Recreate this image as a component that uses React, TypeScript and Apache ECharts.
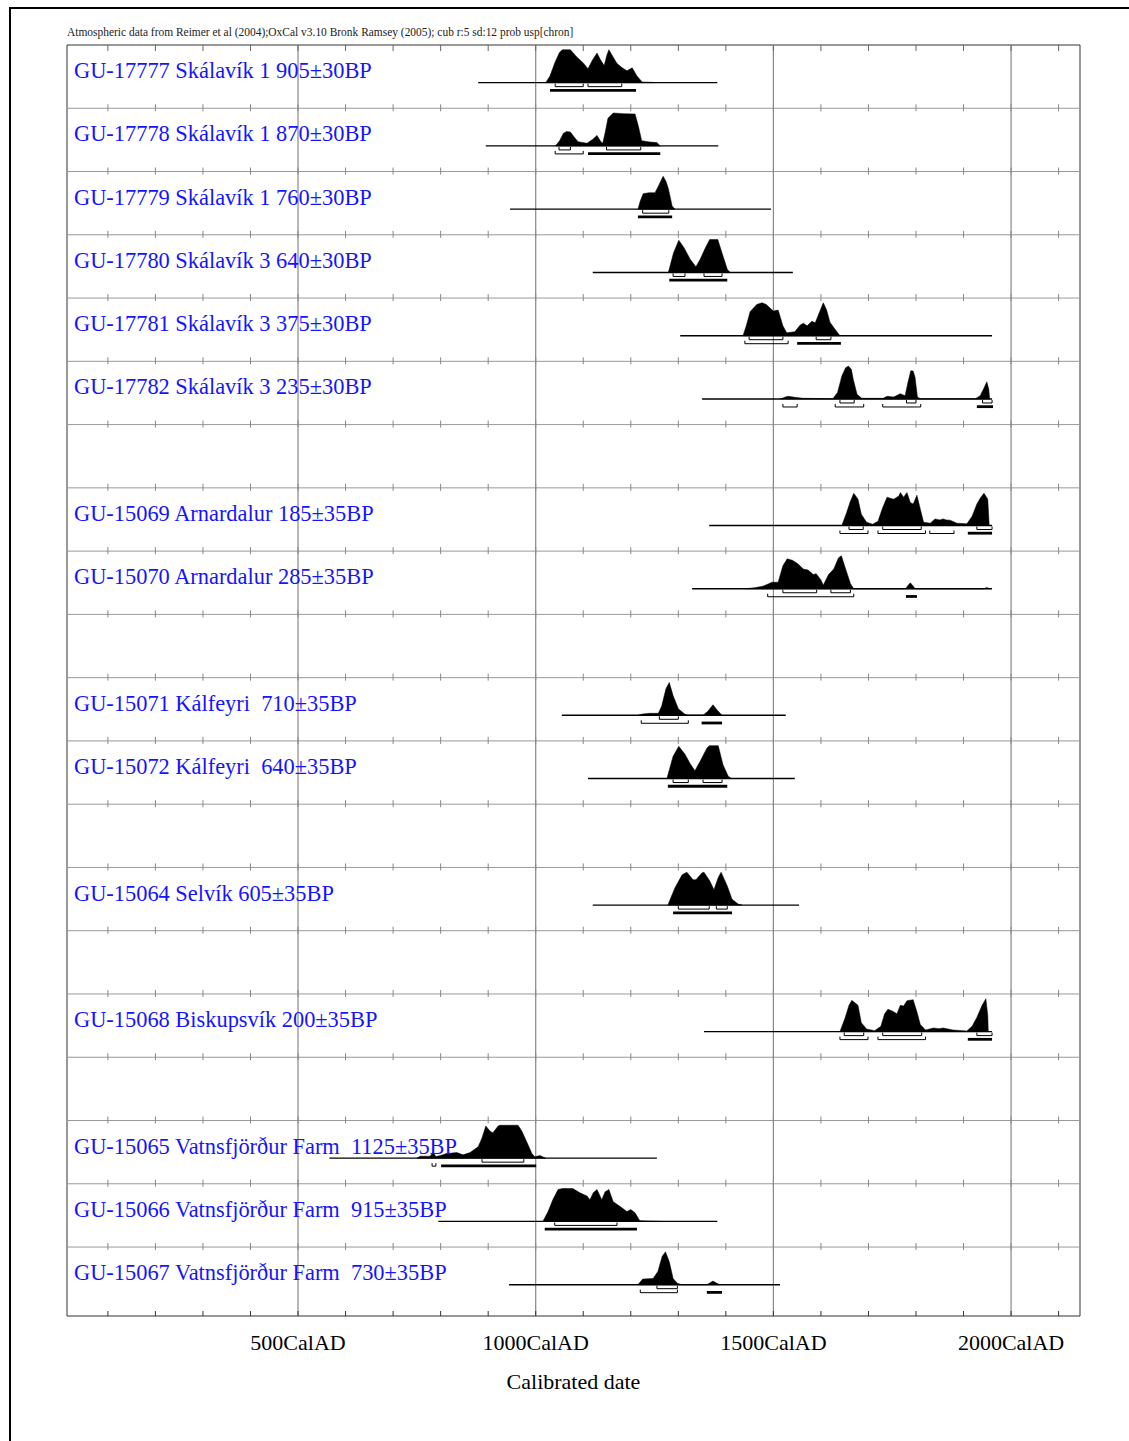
import React, { useEffect, useRef } from "react";
import * as echarts from "echarts";

// ---- axis / layout data ----
const X_MIN = 14;
const X_MAX = 2145;
const Y_MAX = 20.09;
const majorYears = [500, 1000, 1500, 2000];
const minorTickYears = [100, 200, 300, 400, 500, 600, 700, 800, 900, 1000, 1100, 1200, 1300, 1400, 1500, 1600, 1700, 1800, 1900, 2000, 2100];
const rowBoundaries = [1, 2, 3, 4, 5, 6, 7, 8, 9, 10, 11, 12, 13, 14, 15, 16, 17, 18, 19];
const axisSuffix = "CalAD";
const axisName = "Calibrated date";
const headerText = "Atmospheric data from Reimer et al (2004);OxCal v3.10 Bronk Ramsey (2005); cub r:5 sd:12 prob usp[chron]";

// ---- samples ----
const sampleRows = [0, 1, 2, 3, 4, 5, 7, 8, 10, 11, 13, 15, 17, 18, 19];
const sampleLabels = [
  "GU-17777 Skálavík 1 905±30BP",
  "GU-17778 Skálavík 1 870±30BP",
  "GU-17779 Skálavík 1 760±30BP",
  "GU-17780 Skálavík 3 640±30BP",
  "GU-17781 Skálavík 3 375±30BP",
  "GU-17782 Skálavík 3 235±30BP",
  "GU-15069 Arnardalur 185±35BP",
  "GU-15070 Arnardalur 285±35BP",
  "GU-15071 Kálfeyri  710±35BP",
  "GU-15072 Kálfeyri  640±35BP",
  "GU-15064 Selvík 605±35BP",
  "GU-15068 Biskupsvík 200±35BP",
  "GU-15065 Vatnsfjörður Farm  1125±35BP",
  "GU-15066 Vatnsfjörður Farm  915±35BP",
  "GU-15067 Vatnsfjörður Farm  730±35BP",
];

// probability curves: [calendar year AD, relative probability]
const curveGU17777 = [[1021,0],[1030,0.2],[1040,0.6],[1050,0.92],[1056,1.0],[1073,1.0],[1085,0.8],[1100,0.6],[1110,0.42],[1120,0.7],[1129,0.9],[1136,0.7],[1144,0.52],[1150,0.85],[1154,1.0],[1160,0.85],[1171,0.58],[1182,0.45],[1192,0.36],[1203,0.45],[1213,0.2],[1224,0.02],[1245,0.01],[1250,0]];
const curveGU17778 = [[1041,0],[1050,0.15],[1058,0.38],[1065,0.44],[1073,0.42],[1082,0.25],[1089,0.13],[1108,0.08],[1120,0.2],[1129,0.32],[1136,0.15],[1141,0.08],[1146,0.4],[1152,0.84],[1163,1.0],[1185,0.98],[1209,0.97],[1216,0.6],[1223,0.16],[1240,0.12],[1255,0.1],[1262,0]];
const curveGU17779 = [[1215,0],[1220,0.25],[1226,0.47],[1238,0.5],[1251,0.5],[1258,0.7],[1268,1.0],[1274,0.85],[1279,0.63],[1287,0.1],[1293,0]];
const curveGU17780 = [[1279,0],[1290,0.6],[1301,0.98],[1312,0.75],[1325,0.4],[1337,0.17],[1346,0.4],[1356,0.72],[1366,1.0],[1383,1.0],[1394,0.5],[1403,0.1],[1409,0]];
const curveGU17781 = [[1436,0],[1443,0.3],[1451,0.73],[1465,0.95],[1476,1.0],[1485,0.95],[1493,0.84],[1500,0.75],[1510,0.78],[1520,0.3],[1528,0.09],[1545,0.12],[1556,0.32],[1563,0.38],[1571,0.3],[1581,0.44],[1588,0.39],[1596,0.68],[1605,1.0],[1612,0.78],[1619,0.41],[1630,0.19],[1640,0]];
const curveGU17782 = [[1515,0],[1525,0.06],[1531,0.08],[1545,0.05],[1563,0.02],[1625,0.01],[1635,0.2],[1644,0.7],[1652,0.95],[1658,1.0],[1664,0.9],[1668,0.6],[1676,0.14],[1686,0.02],[1731,0.02],[1739,0.08],[1753,0.06],[1767,0.16],[1777,0.1],[1783,0.5],[1789,0.86],[1794,0.85],[1798,0.66],[1803,0.06],[1809,0.01],[1925,0.01],[1935,0.1],[1942,0.3],[1949,0.52],[1953,0.3],[1955,0]];
const curveGU15069 = [[1644,0],[1654,0.39],[1661,0.7],[1669,0.98],[1678,0.8],[1685,0.34],[1696,0.1],[1709,0.04],[1720,0.13],[1730,0.55],[1739,0.86],[1753,0.8],[1764,0.9],[1767,1.0],[1774,0.86],[1781,1.0],[1788,0.7],[1794,0.65],[1802,0.92],[1809,0.5],[1816,0.1],[1830,0.07],[1840,0.2],[1850,0.17],[1857,0.2],[1864,0.17],[1872,0.16],[1886,0.07],[1907,0.05],[1918,0.28],[1928,0.65],[1936,0.85],[1943,0.98],[1951,0.8],[1954,0]];
const curveGU15070 = [[1440,0],[1460,0.03],[1478,0.08],[1490,0.15],[1497,0.2],[1510,0.2],[1520,0.7],[1529,0.91],[1541,0.86],[1552,0.75],[1563,0.6],[1573,0.57],[1584,0.43],[1590,0.46],[1600,0.27],[1605,0.11],[1616,0.43],[1627,0.6],[1637,0.94],[1643,1.0],[1652,0.6],[1662,0.16],[1669,0],[1778,0],[1783,0.1],[1788,0.18],[1793,0.1],[1798,0],[1942,0],[1949,0.04],[1955,0]];
const curveGU15071 = [[1215,0],[1225,0.04],[1240,0.06],[1258,0.06],[1265,0.28],[1274,0.81],[1281,1.0],[1289,0.6],[1300,0.2],[1314,0.03],[1321,0],[1352,0],[1362,0.12],[1373,0.32],[1382,0.15],[1392,0]];
const curveGU15072 = [[1276,0],[1289,0.68],[1301,0.98],[1314,0.74],[1325,0.45],[1335,0.24],[1346,0.53],[1360,0.92],[1365,1.0],[1384,1.0],[1394,0.42],[1405,0.07],[1412,0]];
const curveGU15064 = [[1278,0],[1293,0.53],[1308,0.92],[1318,1.0],[1331,0.77],[1337,0.77],[1350,0.98],[1354,1.0],[1366,0.74],[1375,0.47],[1384,0.84],[1390,1.0],[1403,0.58],[1413,0.18],[1426,0.03],[1434,0]];
const curveGU15068 = [[1640,0],[1650,0.38],[1659,0.8],[1665,0.95],[1678,0.8],[1685,0.27],[1696,0.08],[1713,0.03],[1726,0.16],[1734,0.54],[1741,0.68],[1751,0.62],[1760,0.54],[1767,0.8],[1774,0.78],[1781,0.94],[1794,0.97],[1802,0.6],[1809,0.22],[1820,0.05],[1837,0.11],[1848,0.09],[1857,0.11],[1878,0.05],[1907,0.02],[1918,0.16],[1928,0.43],[1939,0.8],[1947,1.0],[1951,0.5],[1952,0]];
const curveGU15065 = [[750,0],[757,0.06],[778,0.06],[784,0.19],[790,0.05],[800,0.08],[813,0.14],[834,0.17],[847,0.1],[862,0.17],[879,0.35],[887,0.61],[895,0.98],[904,0.82],[910,0.77],[921,0.98],[925,1.0],[963,1.0],[971,0.82],[981,0.5],[992,0.14],[998,0.04],[1009,0.08],[1021,0]];
const curveGU15066 = [[1015,0],[1026,0.3],[1036,0.66],[1047,0.97],[1056,1.0],[1078,1.0],[1093,0.87],[1108,0.77],[1114,0.66],[1121,0.87],[1129,0.97],[1136,0.75],[1139,0.66],[1146,0.9],[1154,0.97],[1163,0.6],[1177,0.46],[1192,0.3],[1200,0.36],[1209,0.26],[1219,0.02],[1262,0]];
const curveGU15067 = [[1215,0],[1225,0.17],[1247,0.19],[1257,0.4],[1266,0.86],[1273,1.0],[1281,0.7],[1289,0.19],[1298,0.04],[1307,0],[1360,0],[1367,0.06],[1373,0.11],[1380,0.05],[1388,0]];

const curves = [curveGU17777, curveGU17778, curveGU17779, curveGU17780, curveGU17781, curveGU17782, curveGU15069, curveGU15070, curveGU15071, curveGU15072, curveGU15064, curveGU15068, curveGU15065, curveGU15066, curveGU15067];

// extent of each sample's base line
const lineExtents = [[879,1382],[895,1384],[946,1495],[1120,1541],[1304,1960],[1350,1960],[1365,1960],[1329,1960],[1055,1526],[1110,1545],[1120,1554],[1354,1960],[566,1255],[795,1382],[944,1514]];

// 68.2% ranges
const ranges68 = [
  [[1041,1100],[1110,1181]],
  [[1049,1073],[1149,1221]],
  [[1225,1280]],
  [[1289,1314],[1354,1392]],
  [[1449,1520],[1590,1621]],
  [[1640,1670],[1780,1800],[1940,1960]],
  [[1659,1689],[1730,1811],[1928,1960]],
  [[1520,1591],[1621,1662]],
  [[1260,1300]],
  [[1289,1321],[1352,1392]],
  [[1300,1365],[1380,1403]],
  [[1649,1690],[1730,1812],[1928,1960]],
  [[887,975]],
  [[1040,1171]],
  [[1255,1298]],
];
// 95.4% ranges shown as brackets
const ranges95 = [
  [],
  [[1041,1100]],
  [],
  [],
  [[1440,1531]],
  [[1520,1550],[1630,1690],[1730,1810]],
  [[1640,1699],[1720,1820],[1829,1880]],
  [[1488,1669]],
  [[1222,1321]],
  [],
  [],
  [[1640,1699],[1720,1820]],
  [[782,790]],
  [],
  [[1220,1298]],
];
// 95.4% ranges shown as bold bars
const ranges95Bold = [
  [[1030,1211]],
  [[1110,1262]],
  [[1215,1287]],
  [[1281,1403]],
  [[1550,1642]],
  [[1928,1962]],
  [[1909,1960]],
  [[1779,1802]],
  [[1349,1392]],
  [[1278,1403]],
  [[1289,1413]],
  [[1909,1960]],
  [[801,1001]],
  [[1019,1213]],
  [[1360,1392]],
];

const BASE_OFF = 0.595;
const PEAK = 0.52;
const LABEL_OFF = 0.405;
const SERIF = '"Liberation Serif", "Times New Roman", serif';

export default function App() {
  const ref = useRef<HTMLDivElement>(null);
  useEffect(() => {
    document.body.style.margin = "0";
    const chart = echarts.init(ref.current!, null, { renderer: "svg" });

    const tickData: number[][] = [];
    for (const b of [0, ...rowBoundaries, Y_MAX]) for (const y of minorTickYears) tickData.push([y, b]);

    const option: any = {
      animation: false,
      backgroundColor: "#fff",
      grid: { left: 67, top: 45, width: 1013, height: 1271, show: true, borderColor: "#333", borderWidth: 1, backgroundColor: "transparent" },
      xAxis: {
        type: "value",
        min: X_MIN,
        max: X_MAX,
        axisLine: { show: false },
        axisTick: { show: false },
        splitLine: { show: false },
        axisLabel: {
          customValues: majorYears,
          formatter: (v: number) => `${v}${axisSuffix}`,
          fontFamily: SERIF,
          fontSize: 22,
          color: "#000",
          margin: 15,
        },
        name: axisName,
        nameLocation: "middle",
        nameGap: 54,
        nameTextStyle: { fontFamily: SERIF, fontSize: 22, color: "#000" },
      },
      yAxis: {
        type: "value",
        min: 0,
        max: Y_MAX,
        inverse: true,
        axisLine: { show: false },
        axisTick: { show: false },
        axisLabel: { show: false },
        splitLine: { show: false },
      },
      graphic: [
        { type: "rect", shape: { x: 10, y: 8, width: 1300, height: 1600 }, style: { fill: "none", stroke: "#000", lineWidth: 2 }, silent: true },
        { type: "text", x: 67, y: 32, style: { text: headerText, fontFamily: SERIF, fontSize: 11.45, fill: "#222", verticalAlign: "middle" }, silent: true },
      ],
      series: [
        {
          type: "custom",
          silent: true,
          data: rowBoundaries.map((b) => [X_MIN, b]),
          renderItem: (params: any, api: any) => {
            const b = api.value(1);
            const p1 = api.coord([X_MIN, b]);
            const p2 = api.coord([X_MAX, b]);
            return { type: "line", shape: { x1: p1[0], y1: p1[1], x2: p2[0], y2: p2[1] }, style: { stroke: "#999", lineWidth: 1 } };
          },
        },
        {
          type: "custom",
          silent: true,
          data: majorYears.map((y) => [y, 0]),
          renderItem: (params: any, api: any) => {
            const yr = api.value(0);
            const p1 = api.coord([yr, 0]);
            const p2 = api.coord([yr, Y_MAX]);
            return { type: "line", shape: { x1: p1[0], y1: p1[1], x2: p2[0], y2: p2[1] }, style: { stroke: "#888", lineWidth: 1.2 } };
          },
        },
        {
          type: "custom",
          silent: true,
          data: tickData,
          renderItem: (params: any, api: any) => {
            const yr = api.value(0);
            const b = api.value(1);
            const p = api.coord([yr, b]);
            let y1 = p[1] - 4, y2 = p[1] + 3, c = "#888";
            if (b === 0) { y1 = p[1]; y2 = p[1] + 6; c = "#666"; }
            if (b === Y_MAX) { y1 = p[1] - 5; y2 = p[1]; c = "#333"; }
            return { type: "line", shape: { x1: p[0], y1, x2: p[0], y2 }, style: { stroke: c, lineWidth: 1 } };
          },
        },
        {
          type: "custom",
          silent: true,
          data: sampleRows.map((r, i) => [lineExtents[i][0], r + BASE_OFF]),
          renderItem: (params: any, api: any) => {
            const i = params.dataIndex;
            const row = sampleRows[i];
            const base = row + BASE_OFF;
            const children: any[] = [];
            const pts = curves[i].map(([yr, h]) => api.coord([yr, base - h * PEAK]));
            children.push({ type: "polygon", shape: { points: pts }, style: { fill: "#000", stroke: "#000", lineWidth: 0.5 } });
            const l1 = api.coord([lineExtents[i][0], base]);
            const l2 = api.coord([lineExtents[i][1], base]);
            children.push({ type: "line", shape: { x1: l1[0], y1: l1[1], x2: l2[0], y2: l2[1] }, style: { stroke: "#000", lineWidth: 1.4 } });
            const by = l1[1];
            const bracket = (r: number[], y: number) => {
              const a = api.coord([r[0], base])[0];
              const b = api.coord([r[1], base])[0];
              return { type: "polyline", shape: { points: [[a, y - 3], [a, y], [b, y], [b, y - 3]] }, style: { stroke: "#000", fill: "none", lineWidth: 1 } };
            };
            ranges68[i].forEach((r) => children.push(bracket(r, by + 4)));
            ranges95[i].forEach((r) => children.push(bracket(r, by + 8)));
            ranges95Bold[i].forEach((r) => {
              const a = api.coord([r[0], base])[0];
              const b = api.coord([r[1], base])[0];
              children.push({ type: "rect", shape: { x: a, y: by + 6.3, width: b - a, height: 2.8 }, style: { fill: "#000" } });
            });
            const lp = api.coord([X_MIN, row + LABEL_OFF]);
            const text = sampleLabels[i].replace(/  /g, " \u00a0");
            children.push({ type: "text", x: lp[0] + 7, y: lp[1], style: { text, fontFamily: SERIF, fontSize: 22.4, fill: "#1414ff", verticalAlign: "middle", align: "left" } });
            return { type: "group", children };
          },
        },
      ],
    };
    chart.setOption(option);
    return () => chart.dispose();
  }, []);
  return <div ref={ref} style={{ width: 1129, height: 1441 }} />;
}
